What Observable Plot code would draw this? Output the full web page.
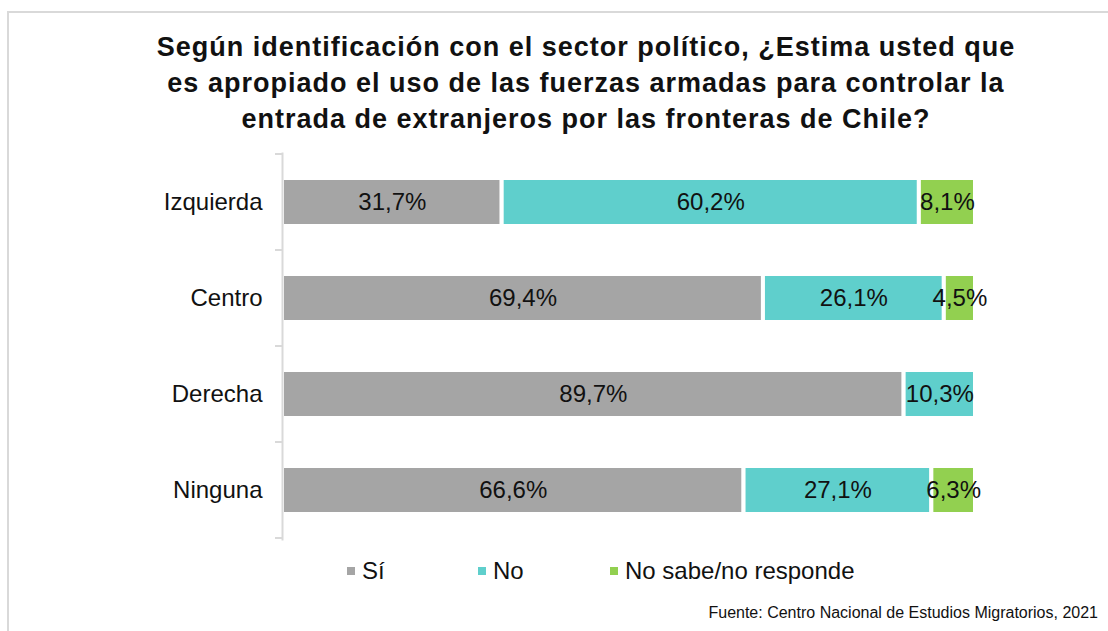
<!DOCTYPE html>
<html>
<head>
<meta charset="utf-8">
<script src="https://cdn.jsdelivr.net/npm/d3@7"></script>
<script src="https://cdn.jsdelivr.net/npm/@observablehq/plot@0.6"></script>
<style>
  html, body { margin: 0; padding: 0; background: #fff; }
  body { width: 1108px; height: 631px; position: relative; overflow: hidden; font-family: "Liberation Sans", Arial, sans-serif; color: #111; }
  #frame { position: absolute; left: 7px; top: 11px; width: 1200px; height: 700px; border-left: 2px solid #d9d9d9; border-top: 2px solid #d9d9d9; }
  #title { position: absolute; left: 86px; width: 1000px; top: 29px; text-align: center; font-weight: bold; font-size: 27px; line-height: 36px; letter-spacing: 1px; }
  #title div { height: 36px; }
  #chart { position: absolute; left: 0; top: 140px; }
  .leg { position: absolute; top: 555px; font-size: 24px; line-height: 32px; white-space: nowrap; }
  .leg span.sw { display: inline-block; width: 8px; height: 8px; margin-right: 7px; vertical-align: middle; position: relative; top: -2px; }
  #source { position: absolute; right: 10px; top: 602px; font-size: 16px; line-height: 22px; }
</style>
</head>
<body>
<div id="frame"></div>
<div id="title"></div>
<div id="chart"></div>
<div id="legend"></div>
<div id="source"></div>
<script>
const titleLines = [
  "Según identificación con el sector político, ¿Estima usted que",
  "es apropiado el uso de las fuerzas armadas para controlar la",
  "entrada de extranjeros por las fronteras de Chile?"
];
const categories = ["Izquierda", "Centro", "Derecha", "Ninguna"];
const responses = ["Sí", "No", "No sabe/no responde"];
const colors = ["#a5a5a5", "#5fcfcc", "#92d050"];
const si = [31.7, 69.4, 89.7, 66.6];
const no = [60.2, 26.1, 10.3, 27.1];
const nsnr = [8.1, 4.5, 0, 6.3];
const sourceText = "Fuente: Centro Nacional de Estudios Migratorios, 2021";

const series = [si, no, nsnr];
const rows = [];
categories.forEach((c, i) => {
  responses.forEach((r, j) => {
    const v = series[j][i];
    if (v > 0) rows.push({category: c, response: r, value: v});
  });
});
const fmt = v => v.toFixed(1).replace(".", ",") + "%";

// Title
const t = document.getElementById("title");
titleLines.forEach(l => { const d = document.createElement("div"); d.textContent = l; t.appendChild(d); });

const plot = Plot.plot({
  width: 1108,
  height: 404,
  marginLeft: 282,
  marginRight: 133,
  marginTop: 13,
  marginBottom: 5,
  style: {fontFamily: "Liberation Sans, Arial, sans-serif", fontSize: "24px", color: "#111", background: "transparent"},
  x: {domain: [0, 100], axis: null},
  y: {domain: categories, paddingInner: 0.5, paddingOuter: 0.25, label: null},
  color: {domain: responses, range: colors},
  marks: [
    Plot.barX(rows, Plot.stackX({x: "value", y: "category", fill: "response", stroke: "white", strokeWidth: 4})),
    Plot.text(rows, Plot.stackX({x: "value", y: "category", text: d => fmt(d.value), fontSize: 24, fill: "#111"})),
    Plot.axisY({tickSize: 0, tickPadding: 20, fontSize: 24, fill: "#111"}),
    Plot.frame({anchor: "left", stroke: "#d9d9d9", strokeWidth: 2, strokeOpacity: 1})
  ]
});
document.getElementById("chart").appendChild(plot);

// band boundary ticks on the left axis line, from the y scale
const ys = plot.scale("y");
const bounds = [];
categories.forEach((c, i) => {
  const center = ys.apply(c) + ys.bandwidth / 2;
  if (i === 0) bounds.push(center - ys.step / 2);
  bounds.push(center + ys.step / 2);
});
const xs = plot.scale("x");
const x0 = xs.range[0];
d3.select(plot).append("g")
  .selectAll("line").data(bounds).join("line")
  .attr("x1", x0 - 7).attr("x2", x0)
  .attr("y1", d => d).attr("y2", d => d)
  .attr("stroke", "#d9d9d9").attr("stroke-width", 2);

// Legend
const legPos = [347, 478, 610];
const leg = document.getElementById("legend");
responses.forEach((r, i) => {
  const d = document.createElement("div");
  d.className = "leg";
  d.style.left = legPos[i] + "px";
  const sw = document.createElement("span");
  sw.className = "sw";
  sw.style.background = colors[i];
  d.appendChild(sw);
  d.appendChild(document.createTextNode(r));
  leg.appendChild(d);
});

document.getElementById("source").textContent = sourceText;
</script>
</body>
</html>
